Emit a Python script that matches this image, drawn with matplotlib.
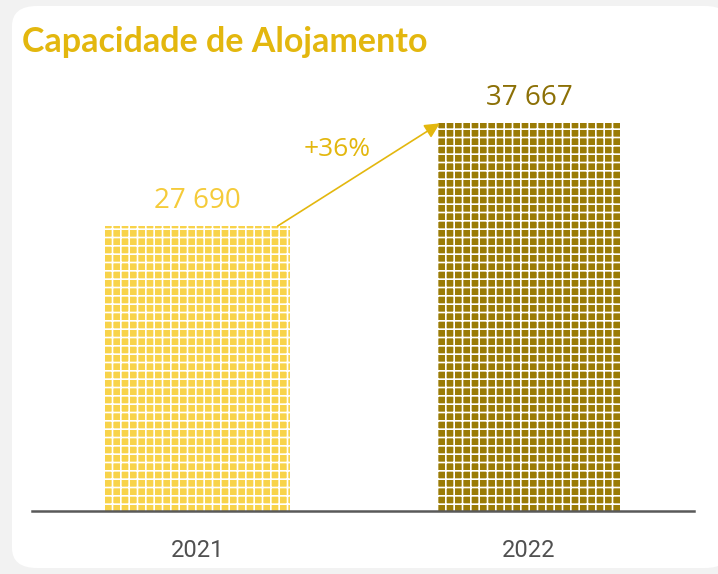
import matplotlib
matplotlib.use("Agg")
import matplotlib.pyplot as plt
from matplotlib.patches import FancyBboxPatch

years = ["2021", "2022"]
capacity = [27690, 37667]
value_labels = ["27 690", "37 667"]
growth_label = "+36%"

BAR_COLORS = ["#F8D34A", "#9A7B06"]
LABEL_COLORS = ["#F5CB3A", "#8C7006"]
GOLD = "#E3B70E"

plt.rcParams["hatch.linewidth"] = 1.2

fig = plt.figure(figsize=(7.18, 5.74), dpi=100)
fig.patch.set_facecolor("#F2F2F2")
card = FancyBboxPatch((12 / 718, 6 / 574), 1.0, 562 / 574,
                      boxstyle="round,pad=0,rounding_size=0.035",
                      transform=fig.transFigure, facecolor="white",
                      edgecolor="none", zorder=-5)
fig.patches.append(card)

ax = fig.add_axes([32 / 718, 63 / 574, 662 / 718, 431 / 574])
ax.set_facecolor("none")
x = range(len(years))
bars = ax.bar(x, capacity, width=0.558, color=BAR_COLORS, edgecolor="white",
              hatch="++", lw=0, zorder=2)
ax.set_xlim(-0.4992, 1.4977)
ax.set_ylim(0, 41875)
for s in ["top", "right", "left"]:
    ax.spines[s].set_visible(False)
ax.spines["bottom"].set_color("#595959")
ax.spines["bottom"].set_linewidth(1.8)
ax.set_yticks([])
ax.set_xticks(list(x))
ax.set_xticklabels(years, fontsize=17, color="#505050",
                   family=["Liberation Sans Narrow", "Roboto"])
ax.tick_params(axis="x", length=0, pad=20)

for xi, v, lab, c in zip(x, capacity, value_labels, LABEL_COLORS):
    ax.annotate(lab, (xi, v), textcoords="offset points", xytext=(0, 8),
                ha="center", va="bottom", fontsize=20, color=c, family="Open Sans")

# growth arrow
ax.annotate("", xy=(1 - 0.558 / 2 + 0.01, capacity[1]),
            xytext=(0.242, capacity[0]),
            arrowprops=dict(arrowstyle="-|>,head_length=0.9,head_width=0.45",
                        color=GOLD, lw=1.2, shrinkA=0, shrinkB=0))
ax.text(0.421, 35100, growth_label, ha="center", va="center", fontsize=19,
        color=GOLD, family="Open Sans")

fig.text(22 / 718, 1 - 42 / 574, "Capacidade de Alojamento", ha="left",
         va="center", fontsize=24.5, fontweight="bold", color=GOLD, family="Lato")

fig.savefig("out.png", dpi=100)
